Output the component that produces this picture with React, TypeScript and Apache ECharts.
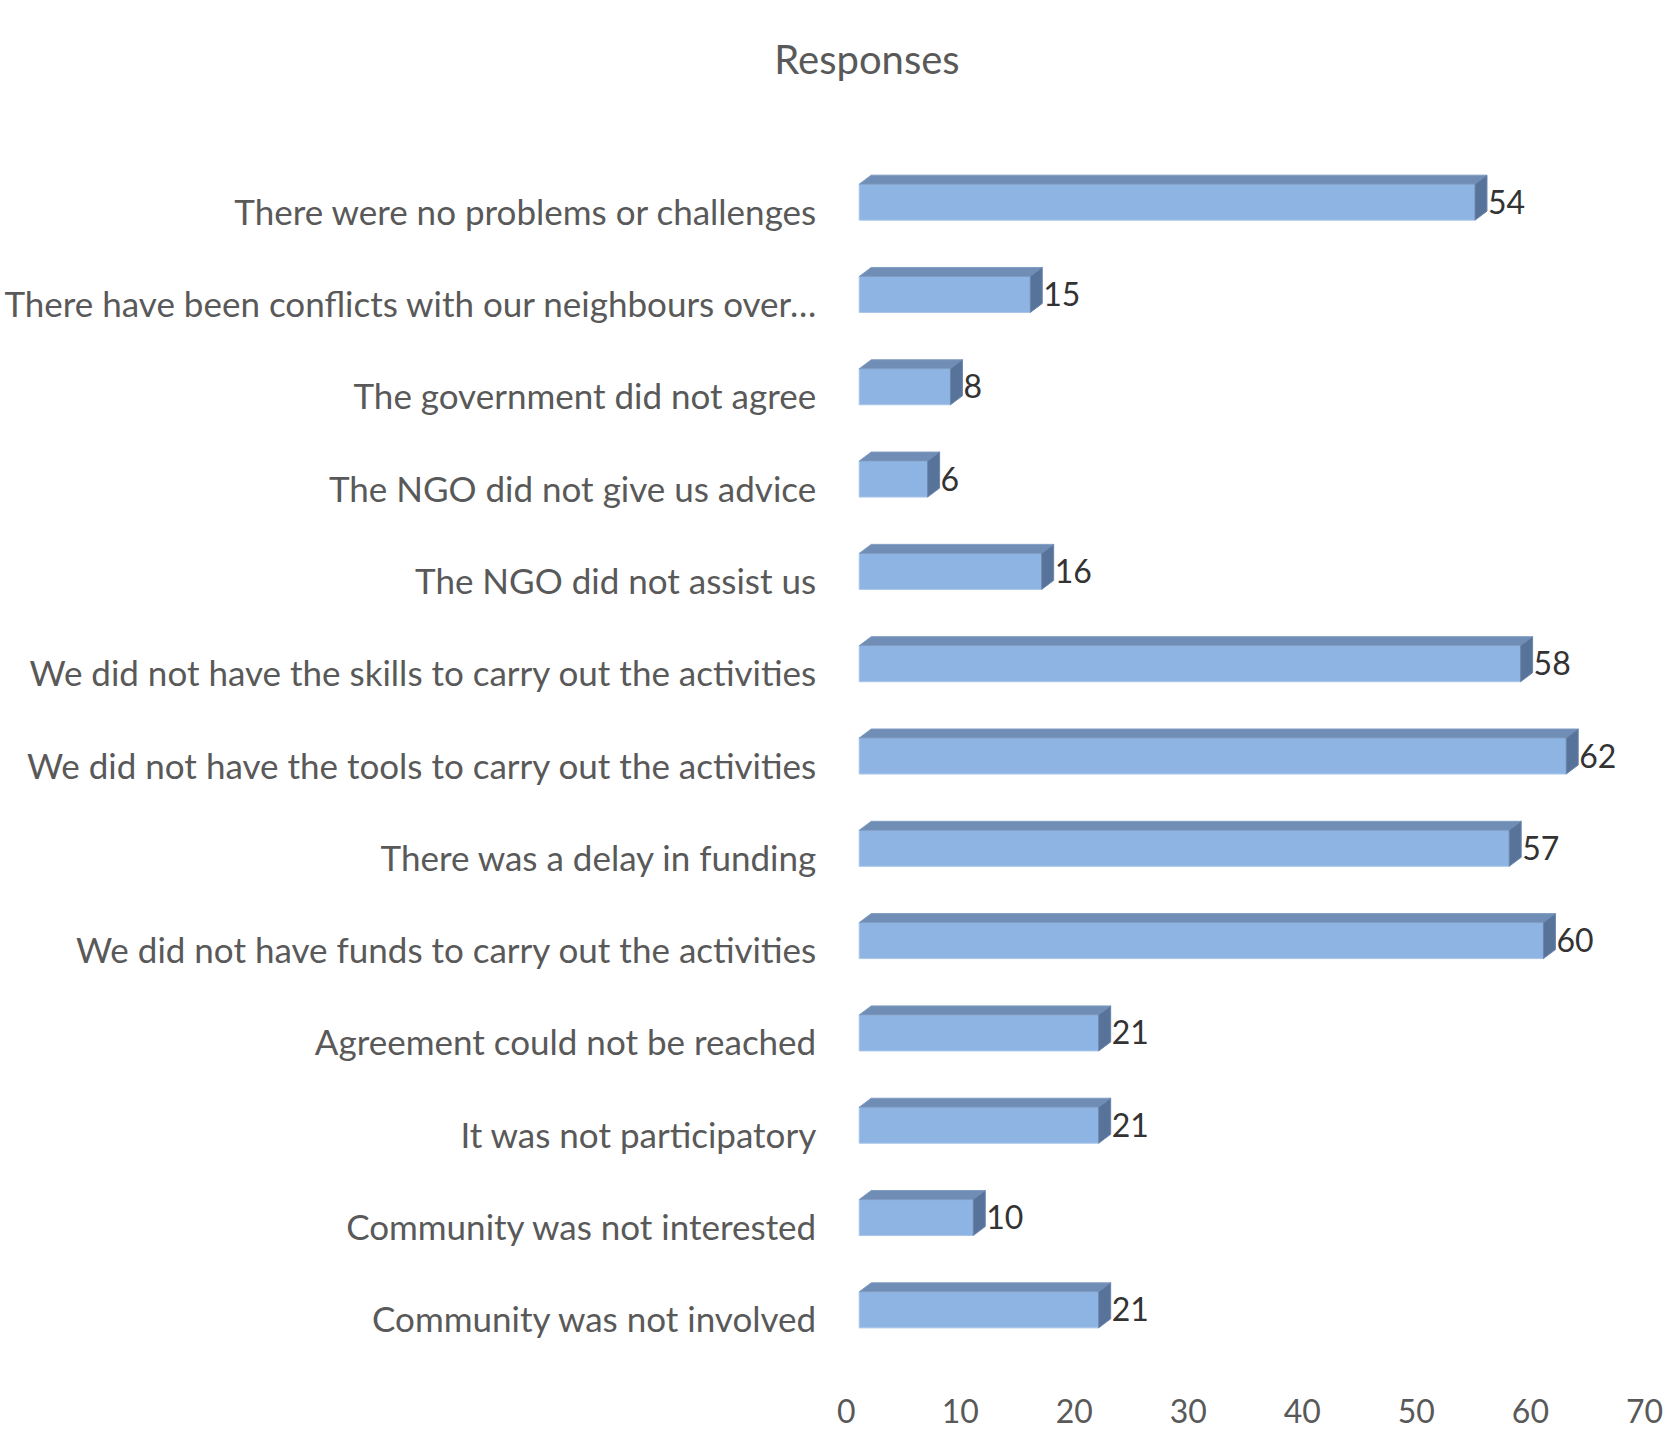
import React, { useEffect, useRef } from "react";
import * as echarts from "echarts";

const categories = [
  "There were no problems or challenges",
  "There have been conflicts with our neighbours over…",
  "The government did not agree",
  "The NGO did not give us advice",
  "The NGO did not assist us",
  "We did not have the skills to carry out the activities",
  "We did not have the tools to carry out the activities",
  "There was a delay in funding",
  "We did not have funds to carry out the activities",
  "Agreement could not be reached",
  "It was not participatory",
  "Community was not interested",
  "Community was not involved",
];
const values = [54, 15, 8, 6, 16, 58, 62, 57, 60, 21, 21, 10, 21];
const xTicks = [0, 10, 20, 30, 40, 50, 60, 70];

const FONT = "Lato";

export default function App() {
  const ref = useRef<HTMLDivElement>(null);
  useEffect(() => {
    document.body.style.margin = "0";
    const chart = echarts.init(ref.current!, null, { renderer: "svg" });
    const dx = 12;
    const dy = 9;
    const half = 18;
    chart.setOption({
      animation: false,
      backgroundColor: "#ffffff",
      title: {
        text: "Responses",
        left: 862,
        top: 34,
        textAlign: "center",
        textStyle: { fontFamily: FONT, fontSize: 40, fontWeight: "normal", color: "#595959" },
      },
      grid: { left: 857, right: 4, top: 156, bottom: 74, containLabel: false },
      xAxis: {
        type: "value",
        min: xTicks[0],
        max: xTicks[xTicks.length - 1],
        interval: 10,
        axisLine: { show: false },
        axisTick: { show: false },
        splitLine: { show: false },
        axisLabel: {
          margin: 38,
          fontFamily: FONT,
          fontSize: 32,
          color: "#595959",
          padding: [0, 26, 0, 0],
        },
      },
      yAxis: {
        type: "category",
        data: categories,
        inverse: true,
        axisLine: { show: false },
        axisTick: { show: false },
        splitLine: { show: false },
        axisLabel: {
          margin: 43,
          fontFamily: FONT,
          fontSize: 35,
          color: "#595959",
          verticalAlign: "top",
          lineHeight: 17,
        },
      },
      series: [
        {
          type: "custom",
          data: values.map((v, i) => [v, i]),
          encode: { x: 0, y: 1 },
          renderItem: (params: any, api: any) => {
            const v = api.value(0);
            const idx = api.value(1);
            const p0 = api.coord([0, idx]);
            const p1 = api.coord([v, idx]);
            const x0 = p0[0];
            const x1 = p1[0];
            const cy = p0[1];
            const top = cy - half;
            const bot = cy + half;
            return {
              type: "group",
              children: [
                {
                  type: "rect",
                  shape: { x: x0, y: top, width: x1 - x0, height: bot - top },
                  style: { fill: "#8DB4E2", stroke: "#A9C6EA", lineWidth: 1 },
                },
                {
                  type: "polygon",
                  shape: { points: [[x0, top], [x0 + dx, top - dy], [x1 + dx, top - dy], [x1, top]] },
                  style: { fill: "#6F8DB5", stroke: "#7F9CC2", lineWidth: 1 },
                },
                {
                  type: "polygon",
                  shape: { points: [[x1, top], [x1 + dx, top - dy], [x1 + dx, bot - dy], [x1, bot]] },
                  style: { fill: "#58739A", stroke: "#6B86AD", lineWidth: 1 },
                },
                {
                  type: "text",
                  x: x1 + dx + 1,
                  y: cy - 1,
                  style: {
                    text: String(v),
                    fontFamily: FONT,
                    fontSize: 32,
                    fill: "#333333",
                    align: "left",
                    verticalAlign: "middle",
                  },
                },
              ],
            };
          },
        },
      ],
    });
    return () => chart.dispose();
  }, []);
  return <div ref={ref} style={{ width: 1666, height: 1430 }} />;
}
